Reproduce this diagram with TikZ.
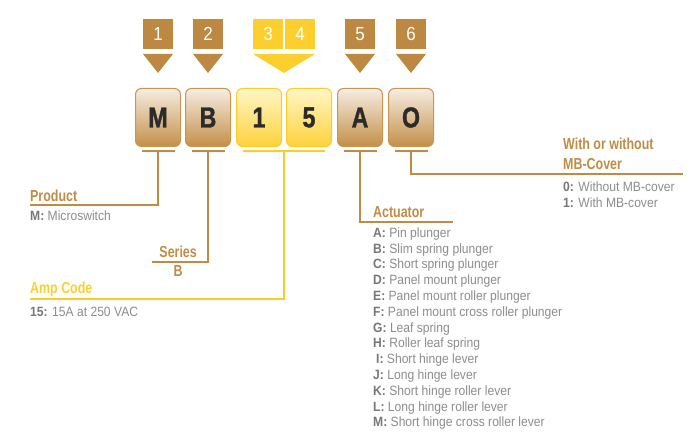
\documentclass[tikz,border=0pt]{standalone}
\usepackage{fontspec}
\setmainfont{Liberation Sans}
\newfontfamily\hfont[FakeStretch=0.78]{Liberation Sans}
\newfontfamily\tfont[FakeStretch=0.9]{Liberation Sans}
\newfontfamily\bigfont[FakeStretch=0.8,FakeBold=1.2]{Liberation Sans}
\definecolor{tan}{HTML}{BD8842}
\definecolor{tanline}{HTML}{C08C45}
\definecolor{gold}{HTML}{FDCF2E}
\definecolor{goldline}{HTML}{FCCC2A}
\definecolor{tanborder}{HTML}{C8964F}
\definecolor{tantop}{HTML}{F5EDE2}
\definecolor{tanbot}{HTML}{C48F48}
\definecolor{goldtop}{HTML}{FFF6C6}
\definecolor{goldbot}{HTML}{FDD23A}
\definecolor{lbl}{HTML}{777777}
\definecolor{txt}{HTML}{8C8C8C}
\definecolor{ink}{HTML}{2B2B2B}
\begin{document}
\begin{tikzpicture}[x=1bp,y=-1bp,
  tag/.style={fill=#1, minimum width=30bp, minimum height=30bp, inner sep=0pt,
    text=white, font=\tfont\fontsize{19}{19}\selectfont},
  lbox/.style={draw=tanborder, line width=1bp, rounded corners=6bp,
    top color=tantop, bottom color=tanbot, minimum width=45bp, minimum height=58bp,
    inner sep=0pt, text=ink, font=\bigfont\bfseries\fontsize{29}{29}\selectfont},
  ybox/.style={lbox, draw=goldline, top color=goldtop, bottom color=goldbot},
  tline/.style={draw=tanline, line width=2bp},
  yline/.style={draw=goldline, line width=2bp},
  head/.style={anchor=base west, inner sep=0pt, text=tanline, font=\hfont\bfseries\fontsize{16}{16}\selectfont},
  item/.style={anchor=base west, inner sep=0pt, text=txt, font=\tfont\fontsize{13.5}{13.5}\selectfont},
]
\useasboundingbox (0,0) rectangle (700,444);
% tags
\node[tag=tan] (t1) at (158,34) {1};
\node[tag=tan] (t2) at (208,34) {2};
\node[tag=gold, minimum width=29.5bp] (t3) at (268,34) {3};
\node[tag=gold, minimum width=30.5bp] (t4) at (300,34) {4};
\node[tag=tan] (t5) at (360,34) {5};
\node[tag=tan] (t6) at (411,34) {6};
% triangles
\fill[tan] (143,54) -- (173,54) -- (158,73) -- cycle;
\fill[tan] (193,54) -- (223,54) -- (208,73) -- cycle;
\fill[gold] (253,54) -- (315,54) -- (284,73) -- cycle;
\fill[tan] (345,54) -- (375,54) -- (360,73) -- cycle;
\fill[tan] (396,54) -- (426,54) -- (411,73) -- cycle;
% letter boxes
\node[lbox] (bM) at (158,117.5) {\raisebox{-2bp}{M}};
\node[lbox] (bB) at (208,117.5) {\raisebox{-2bp}{B}};
\node[ybox] (b1) at (259,117.5) {\raisebox{-2bp}{1}};
\node[ybox] (b5) at (309,117.5) {\raisebox{-2bp}{5}};
\node[lbox] (bA) at (360,117.5) {\raisebox{-2bp}{A}};
\node[lbox] (bO) at (411,117.5) {\raisebox{-2bp}{O}};
% under bars
\draw[tline] (142,151) -- (175,151);
\draw[tline] (192,151) -- (225,151);
\draw[yline] (243,151) -- (325,151);
\draw[tline] (344,151) -- (377,151);
\draw[tline] (395,151) -- (428,151);
% connector coordinates
\coordinate (pM) at (158,205);
\coordinate (pMe) at (30,205);
\coordinate (pB) at (208,262);
\coordinate (pBe) at (152,262);
\coordinate (p15) at (284,299);
\coordinate (p15e) at (30,299);
\coordinate (pA) at (360,222);
\coordinate (pAe) at (453,222);
\coordinate (pO) at (411,174.5);
\coordinate (pOe) at (683,174.5);
\draw[tline] (158,151) -- (pM) -- (pMe);
\draw[tline] (208,151) -- (pB) -- (pBe);
\draw[yline] (284,151) -- (p15) -- (p15e);
\draw[tline] (360,151) -- (pA) -- (pAe);
\draw[tline] (411,151) -- (pO) -- (pOe);
% Product
\node[head] (hP) at (30,201.5) {Product};
\node[item] (iP) at (30,221) {\textbf{\color{lbl}M:} Microswitch};
% Series
\node[head, anchor=base east] (hS) at (197,258) {Series};
\node[head, anchor=base] (iS) at (178,277) {B};
% Amp code
\node[head, text=gold] (hAmp) at (30,293.5) {Amp Code};
\node[item] (iAmp) at (30,316.5) {\textbf{\color{lbl}15:} 15A at 250 VAC};
% Actuator
\node[head] (hA) at (373,217.5) {Actuator};
\foreach \k/\l/\t [count=\i from 0] in {A/A/Pin plunger, B/B/Slim spring plunger, C/C/Short spring plunger,
  D/D/Panel mount plunger, E/E/Panel mount roller plunger, F/F/Panel mount cross roller plunger,
  G/G/Leaf spring, H/H/Roller leaf spring, I/\hspace{3bp}I/Short hinge lever, J/J/Long hinge lever,
  K/K/Short hinge roller lever, L/L/Long hinge roller lever, M/M/Short hinge cross roller lever}
  \node[item] (act\k) at (373,237.3+15.8*\i) {\textbf{\color{lbl}\l:} \t};
% Cover
\node[head] (hO1) at (563,150) {With or without};
\node[head] (hO2) at (563,169.5) {MB-Cover};
\node[item] (iO0) at (563,191.5) {\textbf{\color{lbl}0:} Without MB-cover};
\node[item] (iO1) at (563,207.5) {\textbf{\color{lbl}1:} With MB-cover};
\end{tikzpicture}
\end{document}
